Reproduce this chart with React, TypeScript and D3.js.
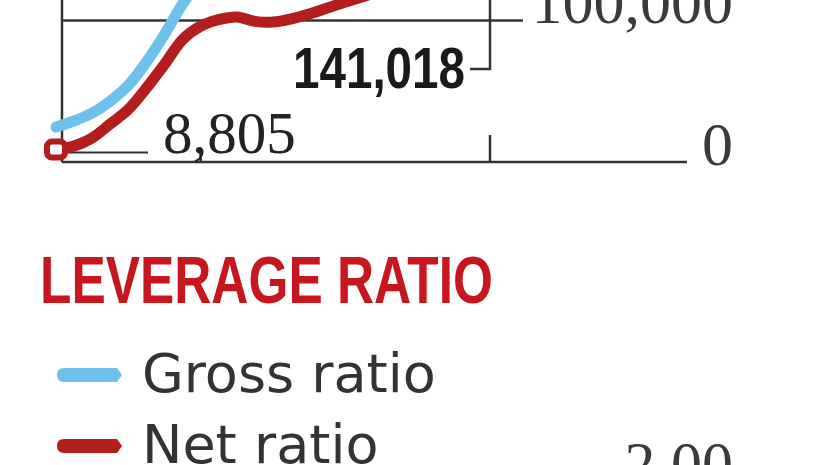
import React from "react";
import * as d3 from "d3";

// ---- data ----
const periods = [0, 1, 2, 3, 4, 5, 6, 7, 8, 9, 10, 11, 12, 13, 14, 15, 16, 17, 18, 19, 20, 21, 22, 23, 24];
const netValues = [8805, 11300, 17000, 26900, 37200, 52300, 69000, 86500, 96000, 100600, 102500, 99400, 98900, 101100, 104600, 108800, 113100, 117000, 121000, 124500, 128000, 131500, 135000, 138000, 141018];
const grossValues = [24700, 29000, 34600, 43100, 54200, 70700, 90200, 111700, 128600, 140000, 150000, 158000, 162000, 166000, 170000, 175000, 180000, 184000, 188000, 192000, 196000, 200000, 204000, 208000, 212000];
const yTicks = [0, 100000];
const majorXTicks = [24];
const minorXTicks = [8];
const startLabel = "8,805";
const endLabel = "141,018";
const nextAxisTop = "2.00";
const title = "LEVERAGE RATIO";
const legendNames = ["Gross ratio", "Net ratio"];
const legendColors = ["#6dc1ec", "#b31e1c"];

export default function App() {
  const W = 826, H = 465;
  const x = d3.scaleLinear().domain([0, 24]).range([56, 490]);
  const y = d3.scaleLinear().domain([0, 100000]).range([162, 20.5]);
  const line = d3
    .line<number>()
    .x((_, i) => x(periods[i]))
    .y((d) => y(d))
    .curve(d3.curveCatmullRom.alpha(0.5));

  const axisColor = "#333";
  const serif = "'Liberation Serif', 'Times New Roman', serif";
  const narrow = "'Liberation Sans Narrow', 'Liberation Sans', Arial, sans-serif";

  const x0 = x(periods[0]);
  const xEnd = x(periods[periods.length - 1]);
  const yStart = y(netValues[0]);
  const yEnd = y(netValues[netValues.length - 1]);

  const swatch = (cy: number) =>
    `M64,${cy - 7} L117,${cy - 7} L122,${cy} L117,${cy + 7} L64,${cy + 7} Q57,${cy + 7} 57,${cy} Q57,${cy - 7} 64,${cy - 7} Z`;

  return (
    <svg
      width={W}
      height={H}
      style={{ position: "absolute", left: 0, top: 0, display: "block", background: "#fff" }}
    >
      {/* left axis line */}
      <line x1={62} x2={62} y1={0} y2={y(0)} stroke={axisColor} strokeWidth={2.5} />
      {/* gridline at 100,000 */}
      <line x1={62} x2={523} y1={y(yTicks[1])} y2={y(yTicks[1])} stroke={axisColor} strokeWidth={2.5} />
      {/* baseline */}
      <line x1={62} x2={687} y1={y(yTicks[0])} y2={y(yTicks[0])} stroke={axisColor} strokeWidth={2.5} />
      {/* x ticks */}
      {majorXTicks.map((t) => (
        <line key={"M" + t} x1={x(t)} x2={x(t)} y1={y(0) - 27} y2={y(0)} stroke={axisColor} strokeWidth={2.5} />
      ))}
      {minorXTicks.map((t) => (
        <line key={"m" + t} x1={x(t)} x2={x(t)} y1={y(0) - 10} y2={y(0)} stroke={axisColor} strokeWidth={2.5} />
      ))}
      {/* y tick labels */}
      <text x={733} y={y(yTicks[1]) + 2.5} textAnchor="end" fontFamily={serif} fontSize={62} fill="#3a3a3a">
        {d3.format(",")(yTicks[1])}
      </text>
      <text x={733} y={y(yTicks[0]) + 3} textAnchor="end" fontFamily={serif} fontSize={62} fill="#3a3a3a">
        {d3.format(",")(yTicks[0])}
      </text>

      {/* annotation: end value bracket */}
      <path
        d={`M${xEnd},${yEnd} L${xEnd},69 L470,69`}
        fill="none"
        stroke={axisColor}
        strokeWidth={2.5}
      />
      <text
        x={465}
        y={88}
        textAnchor="end"
        fontFamily={narrow}
        fontWeight="bold"
        fontSize={57}
        fill="#1a1a1a"
        textLength={172}
        lengthAdjust="spacingAndGlyphs"
      >
        {endLabel}
      </text>

      {/* annotation: start value leader */}
      <line x1={x0 + 7} x2={148} y1={yStart + 3} y2={yStart + 3} stroke={axisColor} strokeWidth={2} />
      <text x={163} y={153} fontFamily={serif} fontSize={59} fill="#222">
        {startLabel}
      </text>

      {/* lines */}
      <path d={line(grossValues) || ""} fill="none" stroke={legendColors[0]} strokeWidth={11} strokeLinecap="round" strokeLinejoin="round" />
      <path d={line(netValues) || ""} fill="none" stroke={legendColors[1]} strokeWidth={11} strokeLinecap="round" strokeLinejoin="round" />
      {/* start marker */}
      <rect x={x0 - 9} y={yStart - 8} width={18} height={16} rx={5} fill="#fff" stroke={legendColors[1]} strokeWidth={6} />

      {/* section title */}
      <text
        x={40}
        y={303}
        fontFamily={narrow}
        fontWeight="bold"
        fontSize={67}
        fill="#c8161e"
        textLength={453}
        lengthAdjust="spacingAndGlyphs"
      >
        {title}
      </text>

      {/* legend */}
      {legendNames.map((name, i) => {
        const cy = 375 + i * 71;
        return (
          <g key={name}>
            <path d={swatch(cy)} fill={legendColors[i]} />
            <text x={142} y={cy + 17} fontFamily="'DejaVu Sans', sans-serif" fontSize={54} fill="#333">
              {name}
            </text>
          </g>
        );
      })}

      {/* top label of the next chart's axis */}
      <text x={733} y={484} textAnchor="end" fontFamily={serif} fontSize={62} fill="#3a3a3a">
        {nextAxisTop}
      </text>
    </svg>
  );
}
